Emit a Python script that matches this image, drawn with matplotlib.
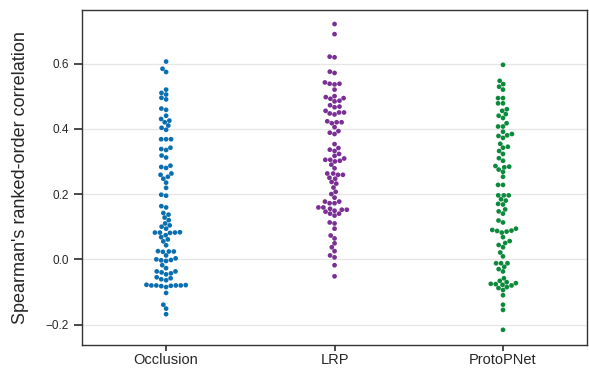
import matplotlib
matplotlib.use("Agg")
import matplotlib.pyplot as plt
import seaborn as sns
import pandas as pd

categories = ["Occlusion", "LRP", "ProtoPNet"]

occlusion = [0.606, 0.584, 0.574, 0.52, 0.51, 0.505, 0.495, 0.49, 0.462, 0.458, 0.44, 0.43,
             0.425, 0.42, 0.41, 0.403, 0.397, 0.368, 0.368, 0.368, 0.342, 0.338, 0.335, 0.318,
             0.312, 0.287, 0.283, 0.28, 0.263, 0.259, 0.253, 0.247, 0.235, 0.219, 0.198, 0.195,
             0.163, 0.159, 0.142, 0.137, 0.128, 0.12, 0.11, 0.104, 0.1, 0.094, 0.082, 0.082,
             0.082, 0.081, 0.083, 0.074, 0.068, 0.061, 0.055, 0.043, 0.024, 0.024, 0.025, 0.023,
             0.012, 0.003, 0.0, -0.003, -0.005, -0.002, -0.018, -0.027, -0.037, -0.04, -0.046,
             -0.043, -0.037, -0.055, -0.058, -0.064, -0.061, -0.08, -0.08, -0.079, -0.081, -0.08,
             -0.082, -0.078, -0.08, -0.085, -0.103, -0.139, -0.151, -0.168]

lrp = [0.721, 0.69, 0.621, 0.619, 0.575, 0.571, 0.542, 0.538, 0.538, 0.536, 0.52, 0.5, 0.497,
       0.494, 0.492, 0.486, 0.484, 0.472, 0.468, 0.466, 0.455, 0.45, 0.447, 0.444, 0.45,
       0.423, 0.42, 0.417, 0.42, 0.405, 0.393, 0.388, 0.384, 0.353, 0.341, 0.336, 0.332, 0.323,
       0.317, 0.309, 0.305, 0.302, 0.305, 0.3, 0.29, 0.279, 0.263, 0.259, 0.263, 0.259, 0.25,
       0.247, 0.237, 0.232, 0.22, 0.207, 0.2, 0.189, 0.177, 0.172, 0.177, 0.172, 0.159, 0.152,
       0.149, 0.152, 0.155, 0.159, 0.146, 0.14, 0.134, 0.14, 0.113, 0.11, 0.094, 0.073, 0.064,
       0.049, 0.037, 0.025, 0.012, 0.006, -0.018, -0.052]

protopnet = [0.596, 0.547, 0.537, 0.529, 0.52, 0.494, 0.494, 0.478, 0.478, 0.46, 0.455, 0.445,
             0.44, 0.433, 0.417, 0.407, 0.407, 0.391, 0.384, 0.378, 0.372, 0.38, 0.354, 0.345,
             0.342, 0.332, 0.323, 0.31, 0.302, 0.286, 0.282, 0.275, 0.284, 0.268, 0.253, 0.228,
             0.228, 0.196, 0.196, 0.196, 0.184, 0.18, 0.17, 0.168, 0.153, 0.14, 0.147, 0.119,
             0.113, 0.094, 0.082, 0.088, 0.085, 0.09, 0.087, 0.068, 0.056, 0.05, 0.037, 0.044,
             0.021, 0.009, -0.012, -0.012, -0.012, -0.023, -0.037, -0.03, -0.058, -0.066, -0.07,
             -0.075, -0.078, -0.073, -0.076, -0.085, -0.08, -0.088, -0.094, -0.11, -0.139, -0.155,
             -0.216]

colors = ["#0a6fb0", "#7a2f95", "#0c8a3c"]

df = pd.DataFrame({
    "method": ["Occlusion"] * len(occlusion) + ["LRP"] * len(lrp) + ["ProtoPNet"] * len(protopnet),
    "value": occlusion + lrp + protopnet,
})

sns.set_theme(style="ticks")
plt.rcParams["font.family"] = ["Liberation Sans", "DejaVu Sans"]

fig = plt.figure(figsize=(5.89, 3.70), dpi=100)
ax = fig.add_axes([0.139, 0.068, 0.858, 0.905])
sns.swarmplot(data=df, x="method", y="value", hue="method", order=categories,
              hue_order=categories, palette=colors, size=3.4, ax=ax, legend=False)
ax.set_ylim(-0.262, 0.764)
ax.set_xlim(-0.5, 2.5)
ax.set_yticks([-0.2, 0.0, 0.2, 0.4, 0.6])
ax.set_yticklabels(["\u22120.2", "0.0", "0.2", "0.4", "0.6"])
ax.yaxis.grid(True, color="#e6e6e6", linewidth=0.9)
ax.set_axisbelow(True)
ax.set_xlabel("")
ax.set_ylabel("Spearman's ranked-order correlation", fontsize=13, labelpad=12)
ax.tick_params(axis="y", labelsize=8.5, length=6, color="#333333")
ax.tick_params(axis="x", labelsize=10.5, length=4, pad=2, color="#333333")
for s in ax.spines.values():
    s.set_color("#333333")
    s.set_linewidth(1.0)
fig.savefig("out.png", dpi=100)
